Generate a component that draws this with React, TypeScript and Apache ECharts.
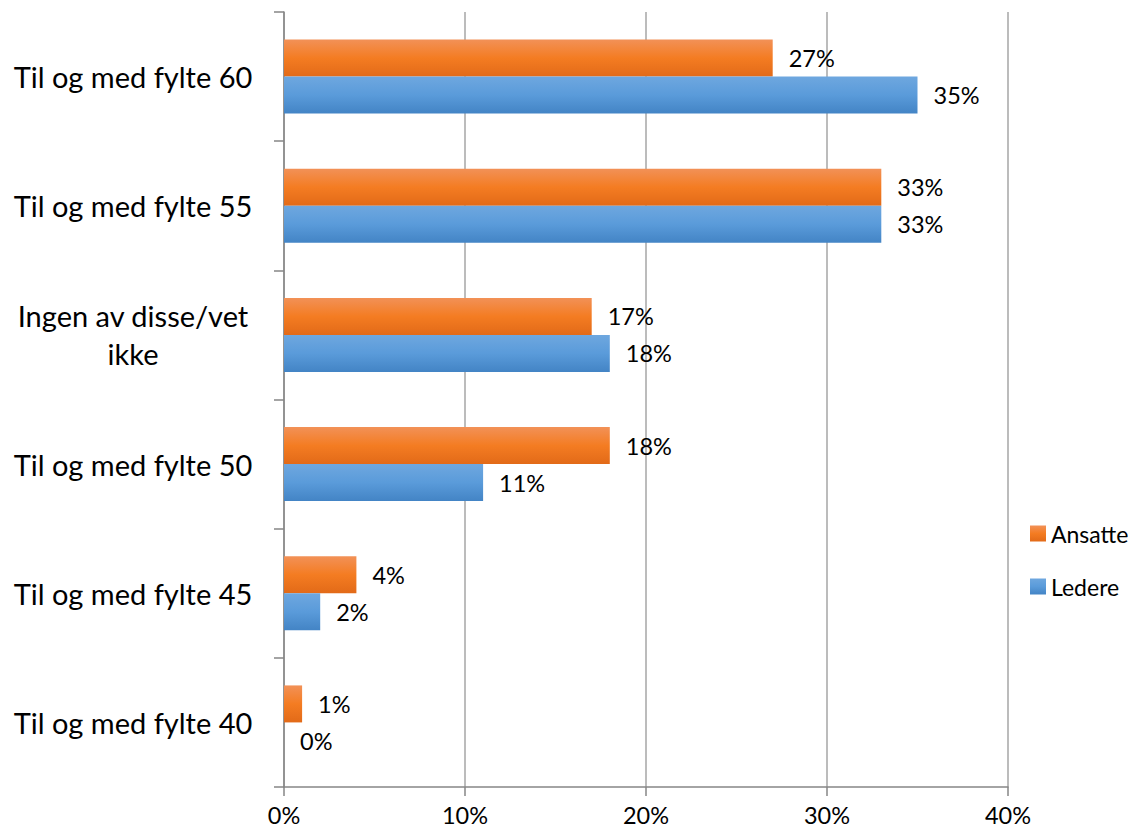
import React, { useEffect, useRef } from "react";
import * as echarts from "echarts";

const categories = [
  "Til og med fylte 60",
  "Til og med fylte 55",
  "Ingen av disse/vet\nikke",
  "Til og med fylte 50",
  "Til og med fylte 45",
  "Til og med fylte 40",
];
const ansatte = [27, 33, 17, 18, 4, 1];
const ledere = [35, 33, 18, 11, 2, 0];
const xTicks = { min: 0, max: 40, interval: 10 };

const FONT = "Lato";

export default function App() {
  const ref = useRef<HTMLDivElement>(null);
  useEffect(() => {
    if (!ref.current) return;
    const chart = echarts.init(ref.current, undefined, { renderer: "svg" });
    const orange = new echarts.graphic.LinearGradient(0, 0, 0, 1, [
      { offset: 0, color: "#F29157" },
      { offset: 0.5, color: "#F47C22" },
      { offset: 1, color: "#E26A18" },
    ]);
    const blue = new echarts.graphic.LinearGradient(0, 0, 0, 1, [
      { offset: 0, color: "#6EA7DF" },
      { offset: 0.5, color: "#5A9BDA" },
      { offset: 1, color: "#4384C5" },
    ]);
    const label = {
      show: true,
      position: "right" as const,
      distance: 16,
      formatter: "{c}%",
      color: "#000",
      fontFamily: FONT,
      fontSize: 23.5,
    };
    chart.setOption({
      animation: false,
      backgroundColor: "#fff",
      textStyle: { fontFamily: FONT },
      grid: { left: 284, right: 130, top: 12, bottom: 45, containLabel: false },
      legend: {
        orient: "vertical",
        left: 1030,
        top: 522,
        padding: 0,
        itemWidth: 16,
        itemHeight: 16,
        itemGap: 30,
        icon: "rect",
        textStyle: { fontFamily: FONT, fontSize: 23, color: "#000", padding: 0, width: 100, overflow: "none" },
        data: ["Ansatte", "Ledere"],
      },
      xAxis: {
        type: "value",
        min: xTicks.min,
        max: xTicks.max,
        interval: xTicks.interval,
        axisLine: { show: true, lineStyle: { color: "#868686", width: 1.5 } },
        axisTick: { show: true, length: 9, lineStyle: { color: "#868686", width: 1.5 } },
        splitLine: { show: true, lineStyle: { color: "#A6A6A6", width: 1.5 } },
        axisLabel: {
          formatter: "{value}%",
          color: "#000",
          fontFamily: FONT,
          fontSize: 23.5,
          margin: 16,
        },
      },
      yAxis: {
        type: "category",
        inverse: true,
        data: categories,
        axisLine: { show: true, lineStyle: { color: "#868686", width: 1.5 } },
        axisTick: { show: true, length: 10, lineStyle: { color: "#868686", width: 1.5 } },
        axisLabel: {
          color: "#000",
          fontFamily: FONT,
          fontSize: 29,
          align: "center",
          margin: 151,
          lineHeight: 38,
        },
      },
      series: [
        {
          name: "Ansatte",
          type: "bar",
          data: ansatte,
          barWidth: 37,
          barGap: "0%",
          itemStyle: { color: orange },
          label,
        },
        {
          name: "Ledere",
          type: "bar",
          data: ledere,
          barWidth: 37,
          barGap: "0%",
          itemStyle: { color: blue },
          label,
        },
      ],
    });
    return () => chart.dispose();
  }, []);
  return <div ref={ref} style={{ width: 1138, height: 832, margin: -8 }} />;
}
